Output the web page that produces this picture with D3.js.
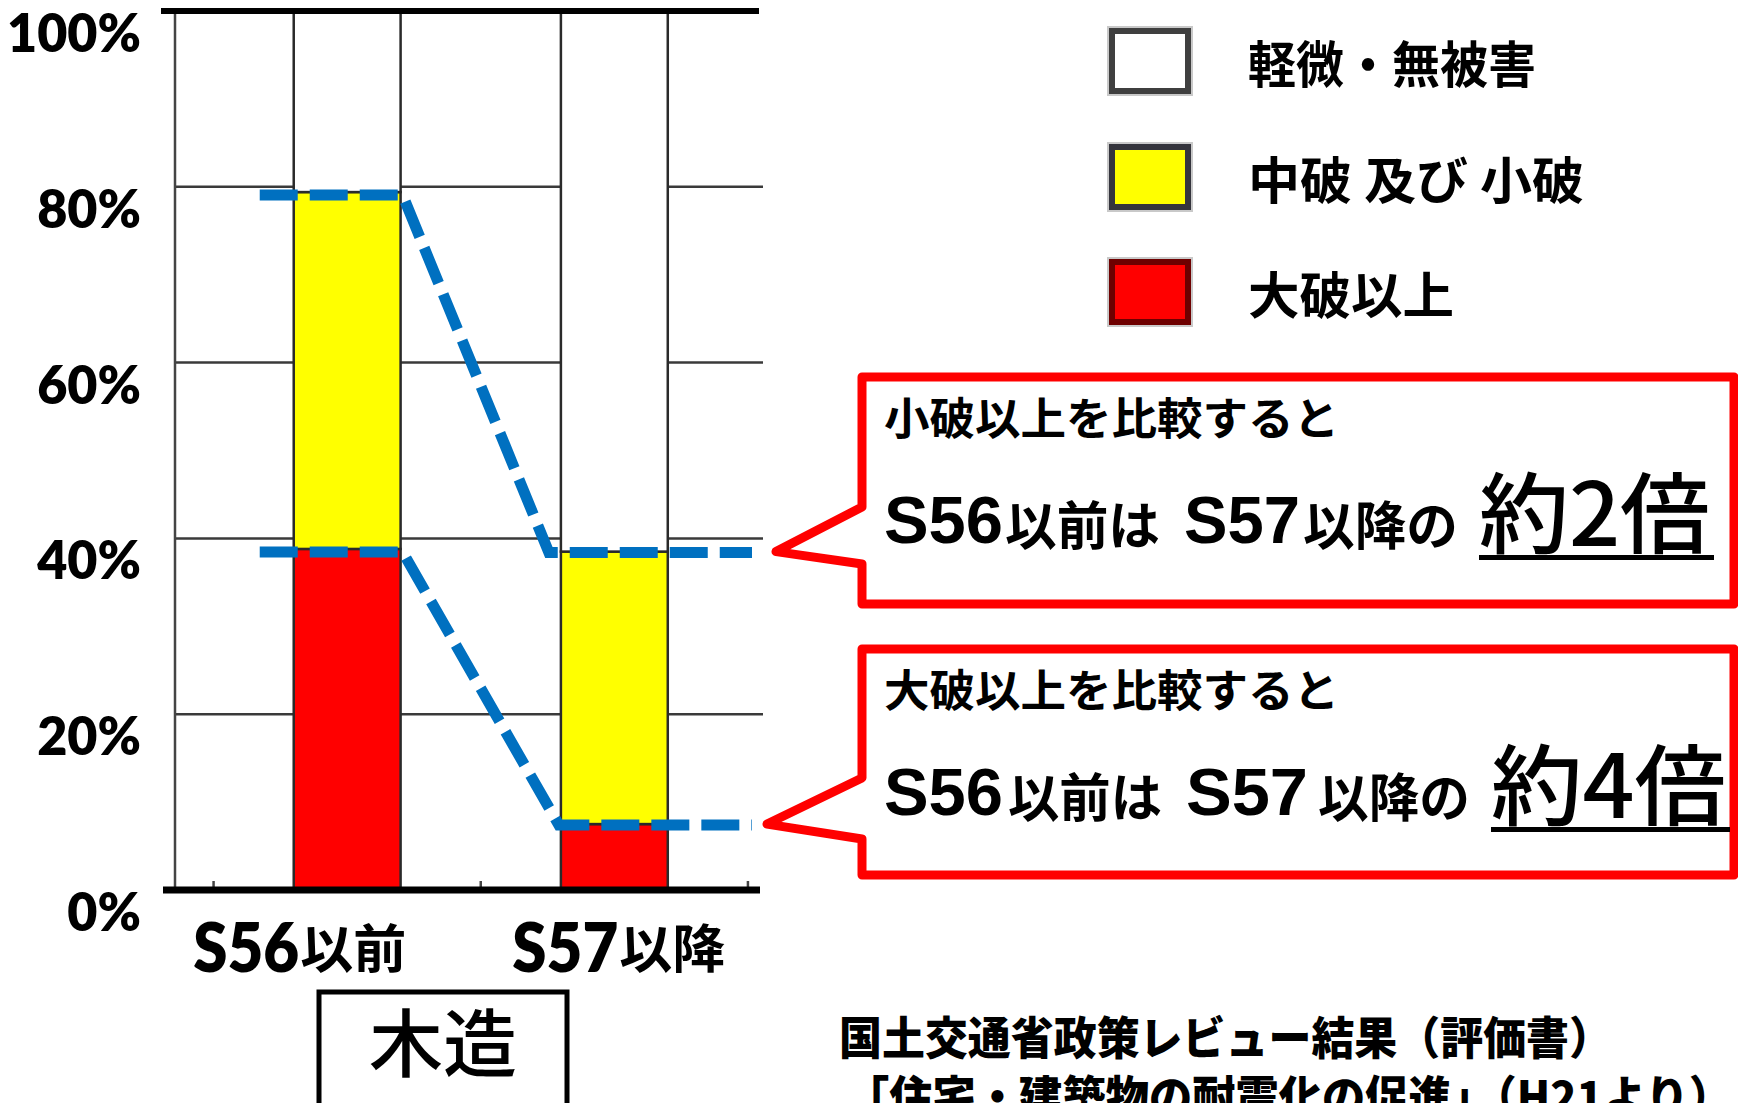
<!DOCTYPE html>
<html><head><meta charset="utf-8">
<script src="https://cdn.jsdelivr.net/npm/d3@7"></script>
<style>html,body{margin:0;padding:0;background:#fff;overflow:hidden}</style>
</head><body><svg id="c" width="1738" height="1103"></svg>
<script>
// ---------------- data ----------------
const categories = ["S56以前", "S57以降"];
const categoryMain = ["S56", "S57"];
const categorySuffix = ["以前", "以降"];
const severeValues = [38.8, 7.5];     // 大破以上
const moderateValues = [40.6, 31.0];  // 中破 及び 小破
const minorValues = [20.6, 61.5];     // 軽微・無被害
const seriesKeys = ["severe", "moderate", "minor"];
const legendLabels = ["軽微・無被害", "中破 及び 小破", "大破以上"];
const legendKeys = ["minor", "moderate", "severe"];
const yTicks = [0, 20, 40, 60, 80, 100];
const yTickLabels = ["0%", "20%", "40%", "60%", "80%", "100%"];
const groupLabel = "木造";
const calloutHeads = ["小破以上を比較すると", "大破以上を比較すると"];
const calloutEraA = ["S56", "S56"];
const calloutMidA = ["以前は", "以前は"];
const calloutEraB = ["S57", "S57"];
const calloutMidB = ["以降の", "以降の"];
const calloutRatios = ["約2倍", "約4倍"];
const sourceLines = ["国土交通省政策レビュー結果（評価書）", "「住宅・建築物の耐震化の促進」（H21より）"];

// ---------------- layout ----------------
const colors = {severe: "#FF0000", moderate: "#FFFF00", minor: "#FFFFFF"};
const legendStroke = {severe: "#6e0000", moderate: "#34343c", minor: "#3f3f3f"};
const svg = d3.select("#c");
const CJK = "'Noto Sans CJK JP', 'Noto Sans CJK SC', sans-serif";
const LAT = "Lato, 'Open Sans', sans-serif";
const ARIAL = "'Liberation Sans', Arial, sans-serif";
const plotLeft = 175, plotRight = 763;

const y = d3.scaleLinear().domain([0, 100]).range([890, 11]);
const x = d3.scaleBand().domain(categories).range([173.5, 788]).paddingInner(0.6).paddingOuter(0.45);
const bw = x.bandwidth(), step = x.step();

const rows = categories.map((c, i) => ({cat: c, severe: severeValues[i], moderate: moderateValues[i], minor: minorValues[i]}));
const stacked = d3.stack().keys(seriesKeys)(rows);

// gridlines
svg.append("g").selectAll("line").data(yTicks.filter(t => t > 0 && t < 100)).join("line")
  .attr("x1", plotLeft).attr("x2", plotRight).attr("y1", d => y(d)).attr("y2", d => y(d))
  .attr("stroke", "#3a3a3a").attr("stroke-width", 2.5);
// left axis
svg.append("line").attr("x1", plotLeft).attr("x2", plotLeft).attr("y1", y(100)).attr("y2", y(0))
  .attr("stroke", "#444").attr("stroke-width", 2.5);

// bars
svg.append("g").selectAll("g").data(stacked).join("g")
  .attr("fill", d => colors[d.key])
  .selectAll("rect").data(d => d).join("rect")
  .attr("x", d => x(d.data.cat)).attr("width", bw)
  .attr("y", d => y(d[1])).attr("height", d => y(d[0]) - y(d[1]))
  .attr("stroke", "#2a2a2a").attr("stroke-width", 2.5);

// small ticks at band boundaries
const bounds = [x(categories[0]) - (step - bw) / 2, x(categories[0]) + bw + (step - bw) / 2, x(categories[1]) + bw + (step - bw) / 2];
svg.append("g").selectAll("line").data(bounds).join("line")
  .attr("x1", d => d).attr("x2", d => d).attr("y1", y(0)).attr("y2", y(0) - 9)
  .attr("stroke", "#444").attr("stroke-width", 2.5);

// top & bottom thick lines
svg.append("line").attr("x1", 161).attr("x2", 759).attr("y1", y(100)).attr("y2", y(100))
  .attr("stroke", "#000").attr("stroke-width", 6);
svg.append("line").attr("x1", 163).attr("x2", 760).attr("y1", y(0)).attr("y2", y(0))
  .attr("stroke", "#000").attr("stroke-width", 7);

// y labels
svg.append("g").selectAll("text").data(yTicks).join("text")
  .attr("x", 141).attr("y", d => y(d) + 21)
  .attr("text-anchor", "end").attr("dominant-baseline", "central")
  .attr("font-family", LAT).attr("font-weight", 800).attr("font-size", 52)
  .attr("fill", "#000")
  .text((d, i) => yTickLabels[i]);

// x labels
const xLabelShift = [-48, 4];
categories.forEach((c, i) => {
  const split = x(c) + bw / 2 + xLabelShift[i];
  svg.append("text").attr("x", split).attr("y", 972).attr("text-anchor", "end")
    .attr("font-family", LAT).attr("font-weight", 800).attr("font-size", 68)
    .attr("textLength", 106).attr("lengthAdjust", "spacingAndGlyphs")
    .text(categoryMain[i]);
  svg.append("text").attr("x", split + 1).attr("y", 968).attr("text-anchor", "start")
    .attr("font-family", CJK).attr("font-weight", 700).attr("font-size", 52)
    .attr("textLength", 106).attr("lengthAdjust", "spacingAndGlyphs")
    .text(categorySuffix[i]);
});

// group box
svg.append("rect").attr("x", 319).attr("y", 992).attr("width", 248).attr("height", 140)
  .attr("fill", "#fff").attr("stroke", "#000").attr("stroke-width", 5);
svg.append("text").attr("x", 443).attr("y", 1071).attr("text-anchor", "middle")
  .attr("font-family", CJK).attr("font-weight", 500).attr("font-size", 74)
  .text(groupLabel);

// blue dashed lines
const topUpper = categories.map((c, i) => stacked[1][i][1]);
const topLower = categories.map((c, i) => stacked[0][i][1]);
const x0 = x(categories[0]), x1 = x(categories[1]);
const dashLine = d3.line();
function dashPath(vals, landShift) {
  return dashLine([[x0 - 34, y(vals[0]) + 3], [x0 + bw + 2, y(vals[0]) + 3], [x1 + landShift, y(vals[1]) + 1], [752, y(vals[1]) + 1]]);
}
svg.append("path").attr("d", dashPath(topUpper, -12)).attr("fill", "none")
  .attr("stroke", "#0070C0").attr("stroke-width", 11).attr("stroke-dasharray", "38,12");
svg.append("path").attr("d", dashPath(topLower, -2)).attr("fill", "none")
  .attr("stroke", "#0070C0").attr("stroke-width", 11).attr("stroke-dasharray", "38,12");

// legend
const legY = [61, 177, 292];
legendKeys.forEach((k, i) => {
  svg.append("rect").attr("x", 1112).attr("y", legY[i] - 30).attr("width", 76).attr("height", 60)
    .attr("fill", "none").attr("stroke", "#c9c9c9").attr("stroke-width", 10);
  svg.append("rect").attr("x", 1112).attr("y", legY[i] - 30).attr("width", 76).attr("height", 60)
    .attr("fill", colors[k]).attr("stroke", legendStroke[k]).attr("stroke-width", 6);
  svg.append("text").attr("x", 1248).attr("y", legY[i]).attr("dominant-baseline", "central")
    .attr("font-family", CJK).attr("font-weight", 700).attr("font-size", 50)
    .attr("textLength", [288, 336, 206][i]).attr("lengthAdjust", "spacingAndGlyphs")
    .text(legendLabels[i]);
});

// callouts
const boxes = [
  {top: 377, bottom: 604, pTop: 507, pBot: 564, tipX: 776, tipY: y(topUpper[1]),
   px: [884, 1005, 1184, 1303, 1479], pw: [119, 155, 116, 155, 231]},
  {top: 649, bottom: 875, pTop: 778, pBot: 839, tipX: 767, tipY: y(topLower[1]),
   px: [884, 1008, 1186, 1318, 1491], pw: [119, 154, 122, 152, 235]}
];
const boxLeft = 862, boxRight = 1734;
boxes.forEach((b, i) => {
  const p = d3.path();
  p.moveTo(boxLeft, b.top); p.lineTo(boxRight, b.top); p.lineTo(boxRight, b.bottom);
  p.lineTo(boxLeft, b.bottom); p.lineTo(boxLeft, b.pBot); p.lineTo(b.tipX, b.tipY);
  p.lineTo(boxLeft, b.pTop); p.closePath();
  svg.append("path").attr("d", p.toString()).attr("fill", "#fff")
    .attr("stroke", "#FF0000").attr("stroke-width", 9).attr("stroke-linejoin", "round");
  const l1 = b.top + 58, l2 = b.top + 166;
  svg.append("text").attr("x", 884).attr("y", l1)
    .attr("font-family", CJK).attr("font-weight", 700).attr("font-size", 44)
    .attr("textLength", 455).attr("lengthAdjust", "spacingAndGlyphs").text(calloutHeads[i]);
  const pieces = [
    {t: calloutEraA[i], f: ARIAL, s: 67, w: 700, dy: 0},
    {t: calloutMidA[i], f: CJK, s: 52, w: 700, dy: 2},
    {t: calloutEraB[i], f: ARIAL, s: 67, w: 700, dy: 0},
    {t: calloutMidB[i], f: CJK, s: 52, w: 700, dy: 2},
    {t: calloutRatios[i], f: CJK, s: 88, w: 500, dy: 3}
  ];
  pieces.forEach((pc, j) => {
    svg.append("text").attr("x", b.px[j]).attr("y", l2 + pc.dy)
      .attr("font-family", pc.f).attr("font-weight", pc.w).attr("font-size", pc.s)
      .attr("textLength", b.pw[j]).attr("lengthAdjust", "spacingAndGlyphs").text(pc.t);
  });
  svg.append("rect").attr("x", b.px[4]).attr("y", l2 + 12).attr("width", b.pw[4] + 4).attr("height", 5).attr("fill", "#000");
});

// source text
svg.append("text").attr("x", 839).attr("y", 1055)
  .attr("font-family", CJK).attr("font-weight", 900).attr("font-size", 45)
  .attr("textLength", 773).attr("lengthAdjust", "spacingAndGlyphs").text(sourceLines[0]);
svg.append("text").attr("x", 846).attr("y", 1114)
  .attr("font-family", CJK).attr("font-weight", 900).attr("font-size", 45)
  .attr("textLength", 886).attr("lengthAdjust", "spacingAndGlyphs").text(sourceLines[1]);
</script></body></html>
